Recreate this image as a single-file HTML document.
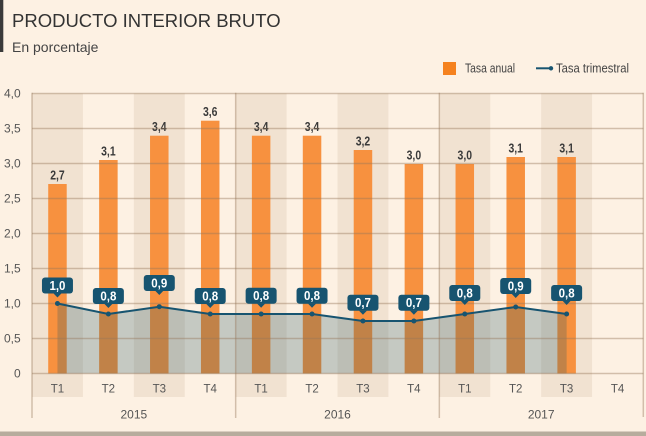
<!DOCTYPE html>
<html><head><meta charset="utf-8"><style>
html,body{margin:0;padding:0;background:#fdf1e3;}
svg{display:block;}
text{font-family:"Liberation Sans Narrow","Liberation Sans",sans-serif;}
</style></head><body>
<svg width="646" height="436" viewBox="0 0 646 436" xmlns="http://www.w3.org/2000/svg">
<rect x="0" y="0" width="646" height="436" fill="#fdf1e3"/>
<!-- title -->
<rect x="0" y="0" width="3.3" height="52" fill="#3a3a3a"/>
<text x="12" y="27" font-size="18.5" fill="#333" style="font-family:'Liberation Sans',sans-serif">PRODUCTO INTERIOR BRUTO</text>
<text x="12" y="52" font-size="14" fill="#444" style="font-family:'Liberation Sans',sans-serif">En porcentaje</text>
<!-- legend -->
<rect x="443" y="62" width="13" height="13" fill="#f5821f"/>
<text x="465" y="72.5" font-size="12.5" fill="#444" textLength="50" lengthAdjust="spacingAndGlyphs">Tasa anual</text>
<line x1="536" y1="68.3" x2="551" y2="68.3" stroke="#175470" stroke-width="2"/>
<circle cx="551" cy="68.3" r="2.2" fill="#175470"/>
<text x="556" y="72.5" font-size="12.5" fill="#444" textLength="73" lengthAdjust="spacingAndGlyphs">Tasa trimestral</text>
<!-- shaded columns -->
<g fill="#f1e2d1">
<rect x="32" y="93.5" width="50.92" height="303.5"/>
<rect x="133.83" y="93.5" width="50.92" height="303.5"/>
<rect x="235.67" y="93.5" width="50.92" height="303.5"/>
<rect x="337.5" y="93.5" width="50.92" height="303.5"/>
<rect x="439.33" y="93.5" width="50.92" height="303.5"/>
<rect x="541.17" y="93.5" width="50.92" height="303.5"/>
</g>
<!-- bars -->
<g fill="#f7913f">
<rect x="48.21" y="184" width="18.5" height="189.5"/>
<rect x="99.13" y="160" width="18.5" height="213.5"/>
<rect x="150.04" y="135.7" width="18.5" height="237.8"/>
<rect x="200.96" y="120.7" width="18.5" height="252.8"/>
<rect x="251.88" y="135.7" width="18.5" height="237.8"/>
<rect x="302.79" y="135.7" width="18.5" height="237.8"/>
<rect x="353.71" y="150" width="18.5" height="223.5"/>
<rect x="404.63" y="164" width="18.5" height="209.5"/>
<rect x="455.54" y="164" width="18.5" height="209.5"/>
<rect x="506.46" y="157" width="18.5" height="216.5"/>
<rect x="557.38" y="157" width="18.5" height="216.5"/>
</g>
<!-- bar labels -->
<g font-size="12.5" font-weight="bold" fill="#3a3a3a" text-anchor="middle">
<text x="57.46" y="179.5" textLength="14.5" lengthAdjust="spacingAndGlyphs">2,7</text>
<text x="108.38" y="155.5" textLength="14.5" lengthAdjust="spacingAndGlyphs">3,1</text>
<text x="159.29" y="131.2" textLength="14.5" lengthAdjust="spacingAndGlyphs">3,4</text>
<text x="210.21" y="116.2" textLength="14.5" lengthAdjust="spacingAndGlyphs">3,6</text>
<text x="261.13" y="131.2" textLength="14.5" lengthAdjust="spacingAndGlyphs">3,4</text>
<text x="312.04" y="131.2" textLength="14.5" lengthAdjust="spacingAndGlyphs">3,4</text>
<text x="362.96" y="145.5" textLength="14.5" lengthAdjust="spacingAndGlyphs">3,2</text>
<text x="413.88" y="159.5" textLength="14.5" lengthAdjust="spacingAndGlyphs">3,0</text>
<text x="464.79" y="159.5" textLength="14.5" lengthAdjust="spacingAndGlyphs">3,0</text>
<text x="515.71" y="152.5" textLength="14.5" lengthAdjust="spacingAndGlyphs">3,1</text>
<text x="566.63" y="152.5" textLength="14.5" lengthAdjust="spacingAndGlyphs">3,1</text>
</g>
<!-- area -->
<polygon points="57.46,303.5 108.38,314 159.29,306.7 210.21,314 261.13,314 312.04,314 362.96,321 413.88,321 464.79,314 515.71,307 566.63,314 566.63,373.5 57.46,373.5" fill="rgb(40,90,100)" fill-opacity="0.26"/>
<!-- gridlines -->
<g stroke="rgb(150,120,90)" stroke-opacity="0.42" stroke-width="1.5">
<line x1="32" y1="93.5" x2="643.3" y2="93.5"/>
<line x1="32" y1="128.5" x2="643.3" y2="128.5"/>
<line x1="32" y1="163.5" x2="643.3" y2="163.5"/>
<line x1="32" y1="198.5" x2="643.3" y2="198.5"/>
<line x1="32" y1="233.5" x2="643.3" y2="233.5"/>
<line x1="32" y1="268.5" x2="643.3" y2="268.5"/>
<line x1="32" y1="303.5" x2="643.3" y2="303.5"/>
<line x1="32" y1="338.5" x2="643.3" y2="338.5"/>
<line x1="32" y1="373.5" x2="643.3" y2="373.5"/>
<line x1="32" y1="92.8" x2="32" y2="418"/>
<line x1="235.67" y1="92.8" x2="235.67" y2="418"/>
<line x1="439.33" y1="92.8" x2="439.33" y2="418"/>
<line x1="643.3" y1="92.8" x2="643.3" y2="417"/>
</g>
<!-- line -->
<polyline points="57.46,303.5 108.38,314 159.29,306.7 210.21,314 261.13,314 312.04,314 362.96,321 413.88,321 464.79,314 515.71,307 566.63,314" fill="none" stroke="#175470" stroke-width="2"/>
<g fill="#175470">
<circle cx="57.46" cy="303.5" r="2.5"/><circle cx="108.38" cy="314" r="2.5"/><circle cx="159.29" cy="306.7" r="2.5"/><circle cx="210.21" cy="314" r="2.5"/><circle cx="261.13" cy="314" r="2.5"/><circle cx="312.04" cy="314" r="2.5"/><circle cx="362.96" cy="321" r="2.5"/><circle cx="413.88" cy="321" r="2.5"/><circle cx="464.79" cy="314" r="2.5"/><circle cx="515.71" cy="307" r="2.5"/><circle cx="566.63" cy="314" r="2.5"/>
</g>
<!-- callouts -->
<g fill="#175470">
<rect x="41.96" y="277.5" width="31" height="16" rx="3"/><polygon points="53.46,293.4 61.46,293.4 57.46,297.5"/>
<rect x="92.88" y="288" width="31" height="16" rx="3"/><polygon points="104.38,303.9 112.38,303.9 108.38,308"/>
<rect x="143.79" y="275" width="31" height="16" rx="3"/><polygon points="155.29,290.9 163.29,290.9 159.29,295"/>
<rect x="194.71" y="288" width="31" height="16" rx="3"/><polygon points="206.21,303.9 214.21,303.9 210.21,308"/>
<rect x="245.63" y="287.7" width="31" height="16" rx="3"/><polygon points="257.13,303.6 265.13,303.6 261.13,307.7"/>
<rect x="296.54" y="287.7" width="31" height="16" rx="3"/><polygon points="308.04,303.6 316.04,303.6 312.04,307.7"/>
<rect x="347.46" y="294.7" width="31" height="16" rx="3"/><polygon points="358.96,310.6 366.96,310.6 362.96,314.7"/>
<rect x="398.38" y="294.7" width="31" height="16" rx="3"/><polygon points="409.88,310.6 417.88,310.6 413.88,314.7"/>
<rect x="449.29" y="285" width="31" height="16" rx="3"/><polygon points="460.79,300.9 468.79,300.9 464.79,305"/>
<rect x="500.21" y="278" width="31" height="16" rx="3"/><polygon points="511.71,293.9 519.71,293.9 515.71,298"/>
<rect x="551.13" y="285" width="31" height="16" rx="3"/><polygon points="562.63,300.9 570.63,300.9 566.63,305"/>
</g>
<g font-size="12.5" font-weight="bold" fill="#fff" text-anchor="middle">
<text x="57.46" y="290" textLength="16" lengthAdjust="spacingAndGlyphs">1,0</text>
<text x="108.38" y="300.5" textLength="16" lengthAdjust="spacingAndGlyphs">0,8</text>
<text x="159.29" y="287.5" textLength="16" lengthAdjust="spacingAndGlyphs">0,9</text>
<text x="210.21" y="300.5" textLength="16" lengthAdjust="spacingAndGlyphs">0,8</text>
<text x="261.13" y="300.2" textLength="16" lengthAdjust="spacingAndGlyphs">0,8</text>
<text x="312.04" y="300.2" textLength="16" lengthAdjust="spacingAndGlyphs">0,8</text>
<text x="362.96" y="307.2" textLength="16" lengthAdjust="spacingAndGlyphs">0,7</text>
<text x="413.88" y="307.2" textLength="16" lengthAdjust="spacingAndGlyphs">0,7</text>
<text x="464.79" y="297.5" textLength="16" lengthAdjust="spacingAndGlyphs">0,8</text>
<text x="515.71" y="290.5" textLength="16" lengthAdjust="spacingAndGlyphs">0,9</text>
<text x="566.63" y="297.5" textLength="16" lengthAdjust="spacingAndGlyphs">0,8</text>
</g>
<!-- y labels -->
<g font-size="12" fill="#555" text-anchor="end">
<text x="20.7" y="97.5">4,0</text>
<text x="20.7" y="132.5">3,5</text>
<text x="20.7" y="167.5">3,0</text>
<text x="20.7" y="202.5">2,5</text>
<text x="20.7" y="237.5">2,0</text>
<text x="20.7" y="272.5">1,5</text>
<text x="20.7" y="307.5">1,0</text>
<text x="20.7" y="342.5">0,5</text>
<text x="20.7" y="377.5">0</text>
</g>
<!-- x labels -->
<g font-size="11.5" fill="#555" text-anchor="middle">
<text x="57.46" y="392.3">T1</text><text x="108.38" y="392.3">T2</text><text x="159.29" y="392.3">T3</text><text x="210.21" y="392.3">T4</text>
<text x="261.13" y="392.3">T1</text><text x="312.04" y="392.3">T2</text><text x="362.96" y="392.3">T3</text><text x="413.88" y="392.3">T4</text>
<text x="464.79" y="392.3">T1</text><text x="515.71" y="392.3">T2</text><text x="566.63" y="392.3">T3</text><text x="617.54" y="392.3">T4</text>
<text x="133.83" y="418.3" font-size="12">2015</text>
<text x="337.5" y="418.3" font-size="12">2016</text>
<text x="541.17" y="418.3" font-size="12">2017</text>
</g>
<!-- bottom band -->
<rect x="0" y="431.5" width="646" height="4.5" fill="#b7ac9d"/>
</svg>
</body></html>
